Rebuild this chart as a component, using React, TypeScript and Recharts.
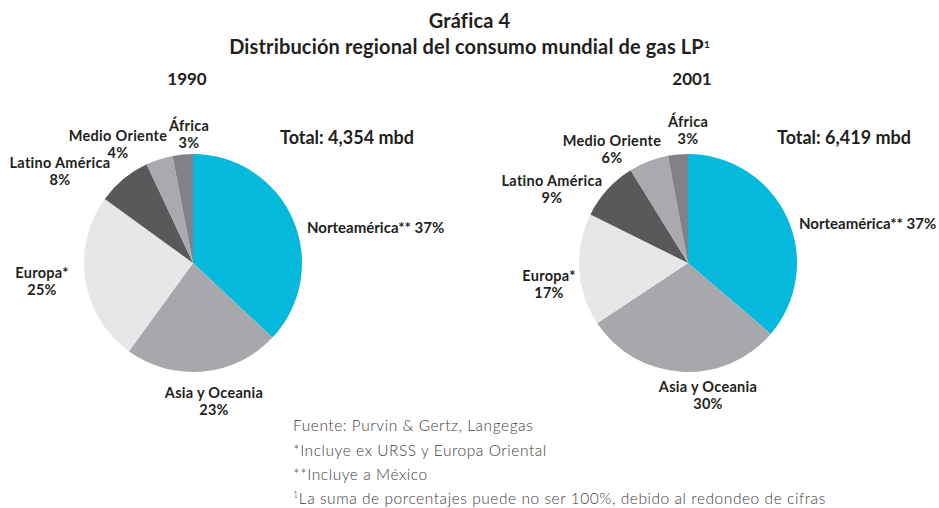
import { PieChart, Pie, Cell } from "recharts";

// regions, clockwise from 12 o'clock
const regions = [
  "Norteamérica**",
  "Asia y Oceania",
  "Europa*",
  "Latino América",
  "Medio Oriente",
  "África",
];
const share1990 = [37, 23, 25, 8, 4, 3];
const share2001 = [37, 30, 17, 9, 6, 3];
const years = ["1990", "2001"];
const totals = ["Total: 4,354 mbd", "Total: 6,419 mbd"];
const footnotes = [
  "Fuente: Purvin & Gertz, Langegas",
  "*Incluye ex URSS y Europa Oriental",
  "**Incluye a México",
];
const lastNote = "La suma de porcentajes puede no ser 100%, debido al redondeo de cifras";

const COLORS = ["#05b9dd", "#a7a8ab", "#e6e7e9", "#58595b", "#a9aaad", "#808285"];
const FONT = "Lato, 'Noto Sans', sans-serif";
const TEXT = "#231f20";

// label placement relative to pie centre: [dx, dy, anchor]
type Place = [number, number, "start" | "middle" | "end"];
const places1990: Place[] = [
  [114, -36, "start"],
  [21, 129, "middle"],
  [-151, 9, "middle"],
  [-133, -101, "middle"],
  [-75, -128, "middle"],
  [-4, -138, "middle"],
];
const places2001: Place[] = [
  [111, -40, "start"],
  [20, 123, "middle"],
  [-139, 12, "middle"],
  [-136, -83, "middle"],
  [-76, -123, "middle"],
  [0, -142, "middle"],
];

const toRows = (values: number[]) =>
  regions.map((name, i) => ({ name, value: values[i] }));

function makeLabel(places: Place[]) {
  return (props: any) => {
    const { cx, cy, index, name, value } = props;
    const [dx, dy, anchor] = places[index];
    const style = { fontFamily: FONT, fontWeight: 700, fontSize: 14.5, fill: TEXT, letterSpacing: 0.3 };
    if (anchor === "start") {
      return (
        <text x={cx + dx} y={cy + dy} textAnchor="start" dominantBaseline="central" style={{ ...style, fontSize: 15, letterSpacing: 0 }}>
          {`${name} ${value}%`}
        </text>
      );
    }
    return (
      <g>
        <text x={cx + dx} y={cy + dy} textAnchor="middle" dominantBaseline="central" style={style}>
          {name}
        </text>
        <text x={cx + dx} y={cy + dy + 17} textAnchor="middle" dominantBaseline="central" style={style}>
          {`${value}%`}
        </text>
      </g>
    );
  };
}

const abs = (x: number, y: number, extra: any = {}) => ({
  position: "absolute" as const,
  left: x,
  top: y,
  whiteSpace: "nowrap" as const,
  ...extra,
});

const noteStyle = { fontWeight: 300, fontSize: 15.5, letterSpacing: 0.55, color: "#414042" };

export default function App() {
  const pies = [
    { data: toRows(share1990), cx: 193, places: places1990 },
    { data: toRows(share2001), cx: 688, places: places2001 },
  ];
  return (
    <div
      style={{
        position: "absolute",
        left: 0,
        top: 0,
        width: 939,
        height: 508,
        background: "#fff",
        fontFamily: FONT,
        color: TEXT,
      }}
    >
      <div style={abs(0, 7, { width: 939, textAlign: "center", fontWeight: 700, fontSize: 20, lineHeight: "26px", letterSpacing: 0.15 })}>
        Gráfica 4
        <br />
        Distribución regional del consumo mundial de gas LP
        <sup style={{ fontSize: 10, verticalAlign: "top", position: "relative", top: -2 }}>1</sup>
      </div>
      <div style={abs(137, 68, { width: 100, textAlign: "center", fontWeight: 700, fontSize: 17 })}>{years[0]}</div>
      <div style={abs(642, 68, { width: 100, textAlign: "center", fontWeight: 700, fontSize: 17 })}>{years[1]}</div>
      <div style={abs(280, 126, { fontWeight: 700, fontSize: 18 })}>{totals[0]}</div>
      <div style={abs(777, 126, { fontWeight: 700, fontSize: 18 })}>{totals[1]}</div>

      <div style={{ position: "absolute", left: 0, top: 0 }}>
        <PieChart width={939} height={508} margin={{ top: 0, right: 0, bottom: 0, left: 0 }}>
          {pies.map((p, k) => (
            <Pie
              key={k}
              data={p.data}
              dataKey="value"
              nameKey="name"
              cx={p.cx}
              cy={263}
              outerRadius={109}
              startAngle={90}
              endAngle={-270}
              stroke="none"
              labelLine={false}
              label={makeLabel(p.places)}
              isAnimationActive={false}
            >
              {p.data.map((d, i) => (
                <Cell key={d.name} fill={COLORS[i]} />
              ))}
            </Pie>
          ))}
        </PieChart>
      </div>

      {footnotes.map((f, i) => (
        <div key={f} style={abs(293, 416 + i * 24.5, noteStyle)}>
          {f}
        </div>
      ))}
      <div style={abs(293, 489, noteStyle)}>
        <sup style={{ fontSize: 9, verticalAlign: "top" }}>1</sup>
        {lastNote}
      </div>
    </div>
  );
}
